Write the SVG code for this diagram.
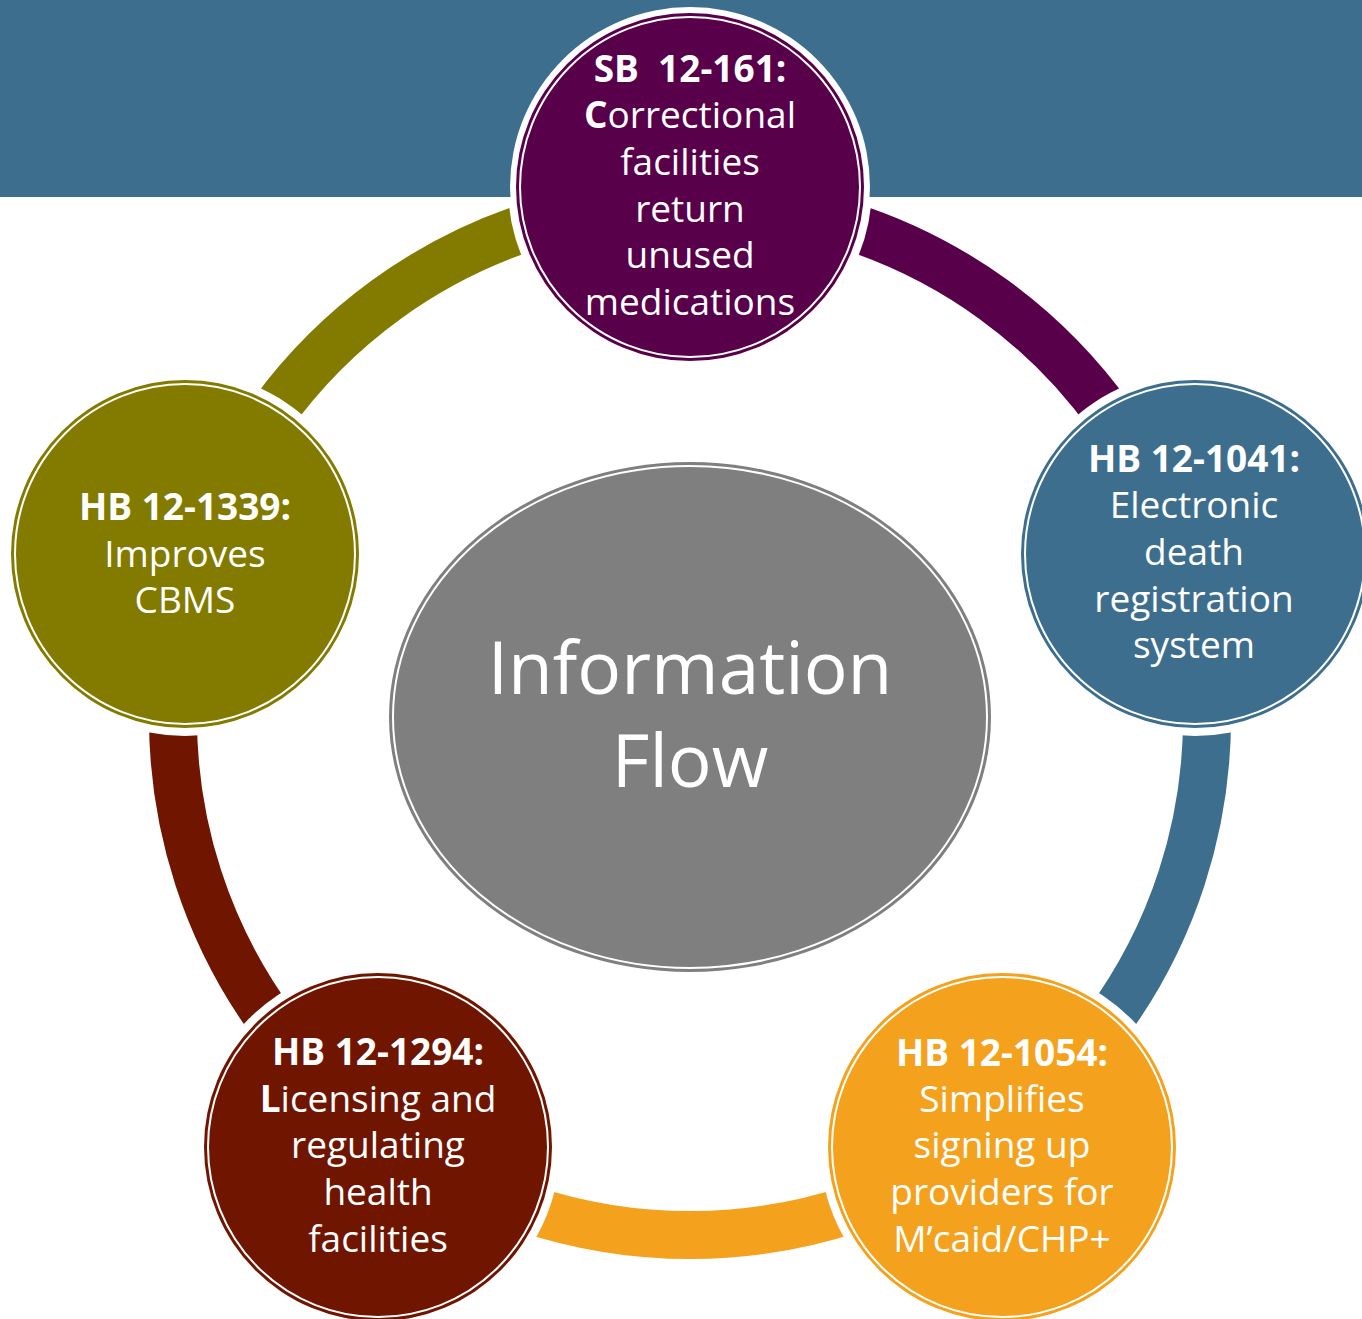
<svg xmlns="http://www.w3.org/2000/svg" width="1362" height="1319" viewBox="0 0 1362 1319">
  <style>
    .lbl { font-family: "Open Sans", "Noto Sans", "Liberation Sans", sans-serif; font-size: 37px; fill: #ffffff; text-anchor: middle; }
    .b { font-weight: bold; }
    .hub { font-family: "Open Sans", "Noto Sans", "Liberation Sans", sans-serif; font-size: 73px; fill: #ffffff; text-anchor: middle; }
    .ring { fill: none; stroke-width: 48; }
    .inner { fill: none; stroke: #ffffff; stroke-width: 2; }
    .halo { fill: #ffffff; }
  </style>
  <defs>
    <!-- cut the ring away around each node so the arcs stop short of the circles -->
    <mask id="ringGaps" maskUnits="userSpaceOnUse" x="0" y="0" width="1362" height="1319">
      <rect x="0" y="0" width="1362" height="1319" fill="#ffffff"/>
      <circle cx="690" cy="187" r="182" fill="#000000"/>
      <circle cx="1195" cy="554" r="182" fill="#000000"/>
      <circle cx="1002" cy="1147" r="182" fill="#000000"/>
      <circle cx="378" cy="1147" r="182" fill="#000000"/>
      <circle cx="185" cy="554" r="182" fill="#000000"/>
    </mask>
  </defs>

  <!-- header band -->
  <rect x="0" y="0" width="1362" height="197" fill="#3d6e8e"/>

  <!-- connecting arcs, ring centre (690,718), radius 517 -->
  <g id="connectors" mask="url(#ringGaps)">
    <path class="ring" stroke="#59004b" d="M 690 201 A 517 517 0 0 1 1181.7 558.2"/>
    <path class="ring" stroke="#3d6e8e" d="M 1181.7 558.2 A 517 517 0 0 1 993.9 1136.3"/>
    <path class="ring" stroke="#f4a21d" d="M 993.9 1136.3 A 517 517 0 0 1 386.1 1136.3"/>
    <path class="ring" stroke="#6f1500" d="M 386.1 1136.3 A 517 517 0 0 1 198.3 558.2"/>
    <path class="ring" stroke="#837b00" d="M 198.3 558.2 A 517 517 0 0 1 690 201"/>
  </g>

  <!-- hub -->
  <g id="hub">
    <ellipse cx="690" cy="717" rx="304" ry="258" class="halo"/>
    <ellipse cx="690" cy="717" rx="301" ry="255" fill="#7f7f7f"/>
    <ellipse cx="690" cy="717" rx="297" ry="251" class="inner"/>
    <text class="hub" x="690" y="694">Information</text>
    <text class="hub" x="690" y="787">Flow</text>
  </g>

  <!-- SB 12-161 -->
  <g id="node-sb12-161">
    <circle cx="690" cy="187" r="180" class="halo"/>
    <circle cx="690" cy="187" r="174" fill="#59004b"/>
    <circle cx="690" cy="187" r="170" class="inner"/>
    <text class="lbl b" x="690" y="82" xml:space="preserve">SB  12-161:</text>
    <text class="lbl" x="690" y="128"><tspan class="b">C</tspan>orrectional</text>
    <text class="lbl" x="690" y="175">facilities</text>
    <text class="lbl" x="690" y="222">return</text>
    <text class="lbl" x="690" y="268">unused</text>
    <text class="lbl" x="690" y="315">medications</text>
  </g>

  <!-- HB 12-1041 -->
  <g id="node-hb12-1041">
    <circle cx="1195" cy="554" r="180" class="halo"/>
    <circle cx="1195" cy="554" r="174" fill="#3d6e8e"/>
    <circle cx="1195" cy="554" r="170" class="inner"/>
    <text class="lbl b" x="1194" y="472">HB 12-1041:</text>
    <text class="lbl" x="1194" y="518">Electronic</text>
    <text class="lbl" x="1194" y="565">death</text>
    <text class="lbl" x="1194" y="612">registration</text>
    <text class="lbl" x="1194" y="658">system</text>
  </g>

  <!-- HB 12-1054 -->
  <g id="node-hb12-1054">
    <circle cx="1002" cy="1147" r="180" class="halo"/>
    <circle cx="1002" cy="1147" r="174" fill="#f4a21d"/>
    <circle cx="1002" cy="1147" r="170" class="inner"/>
    <text class="lbl b" x="1002" y="1066">HB 12-1054:</text>
    <text class="lbl" x="1002" y="1112">Simplifies</text>
    <text class="lbl" x="1002" y="1158">signing up</text>
    <text class="lbl" x="1002" y="1205">providers for</text>
    <text class="lbl" x="1002" y="1252">M’caid/CHP+</text>
  </g>

  <!-- HB 12-1294 -->
  <g id="node-hb12-1294">
    <circle cx="378" cy="1147" r="180" class="halo"/>
    <circle cx="378" cy="1147" r="174" fill="#6f1500"/>
    <circle cx="378" cy="1147" r="170" class="inner"/>
    <text class="lbl b" x="378" y="1065">HB 12-1294:</text>
    <text class="lbl" x="378" y="1112"><tspan class="b">L</tspan>icensing and</text>
    <text class="lbl" x="378" y="1158">regulating</text>
    <text class="lbl" x="378" y="1205">health</text>
    <text class="lbl" x="378" y="1252">facilities</text>
  </g>

  <!-- HB 12-1339 -->
  <g id="node-hb12-1339">
    <circle cx="185" cy="554" r="180" class="halo"/>
    <circle cx="185" cy="554" r="174" fill="#837b00"/>
    <circle cx="185" cy="554" r="170" class="inner"/>
    <text class="lbl b" x="185" y="520">HB 12-1339:</text>
    <text class="lbl" x="185" y="566.5">Improves</text>
    <text class="lbl" x="185" y="613">CBMS</text>
  </g>
</svg>
